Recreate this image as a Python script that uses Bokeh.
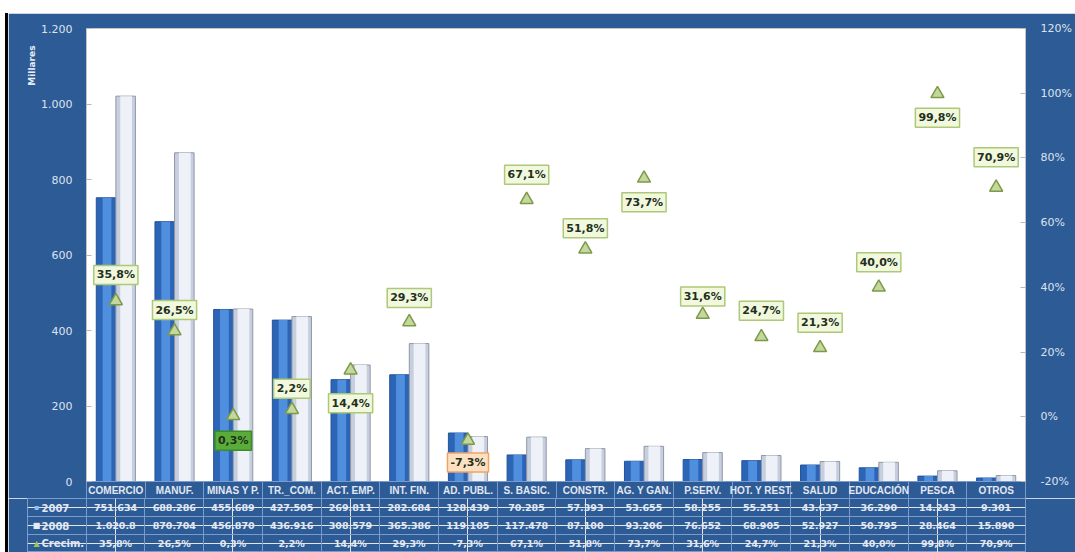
from bokeh.plotting import figure
from bokeh.models import (ColumnDataSource, Range1d, LinearAxis, FixedTicker, Div, Grid, Title)
from bokeh.layouts import column, row
from bokeh.embed import file_html
from bokeh.resources import INLINE
from bokeh.core.properties import value
from bokeh.transform import dodge

# ---------------- data ----------------
categories = ["COMERCIO", "MANUF.", "MINAS Y P.", "TR._COM.", "ACT. EMP.", "INT. FIN.",
              "AD. PUBL.", "S. BASIC.", "CONSTR.", "AG. Y GAN.", "P.SERV.", "HOT. Y REST.",
              "SALUD", "EDUCACIÓN", "PESCA", "OTROS"]
v2007 = [751.634, 688.286, 455.689, 427.505, 269.811, 282.684, 128.439, 70.285,
         57.393, 53.655, 58.255, 55.251, 43.637, 36.290, 14.243, 9.301]
v2008 = [1020.8, 870.704, 456.870, 436.916, 308.579, 365.386, 119.105, 117.478,
         87.100, 93.206, 76.652, 68.905, 52.927, 50.795, 28.464, 15.890]
growth = [35.8, 26.5, 0.3, 2.2, 14.4, 29.3, -7.3, 67.1, 51.8, 73.7, 31.6, 24.7,
          21.3, 40.0, 99.8, 70.9]
left_ticks = [0, 200, 400, 600, 800, 1000, 1200]
left_tick_labels = ["0", "200", "400", "600", "800", "1.000", "1.200"]
right_ticks = [-20, 0, 20, 40, 60, 80, 100, 120]
row_labels = ["2007", "2008", "Crecim."]
title_text = "(Miles de US$ dólares)"
y_title = "Millares"

# ---------------- styling ----------------
BLUE = "#2d5b96"
GRID = "#7a9bcb"
TXT = "#e2e8f2"
# vertical pixel offset of each growth label box from its marker (negative = above)
label_offset = [-26, -21, 25, -21, 33, -24, 22, -25, -21, 24, -18, -26, -25, -25, 24, -30]


def fmt_val(v):
    return f"{v:,.1f}".replace(",", ".") if v >= 1000 else f"{v:.3f}"


def fmt_pct(g):
    return f"{g:.1f}".replace(".", ",") + "%"


idx = list(range(len(categories)))
glabels = [fmt_pct(g) for g in growth]
bg, bd = [], []
for g in growth:
    if g < 0:
        bg.append("#fde0c2"); bd.append("#f0a464")
    elif g < 1:
        bg.append("#5aac3a"); bd.append("#3d8a28")
    else:
        bg.append("#f1f8de"); bd.append("#adc978")

src = ColumnDataSource(dict(x=idx, v2007=v2007, v2008=v2008, growth=growth,
                            glabel=glabels, bg=bg, bd=bd, yoff=label_offset))

# ---------------- title strip (mostly cut off, as in the reference) ----------------
title = Div(
    text=('<div style="position:relative;height:10px;overflow:hidden;background:#fff;">'
          '<div style="position:absolute;left:17px;width:1058px;top:-17px;text-align:center;'
          'font-family:\'Liberation Serif\';font-weight:bold;font-size:32px;line-height:32px;'
          'color:#000;white-space:nowrap;">%s</div></div>'
          '<div style="height:3px;margin-left:5px;background:#000;"></div>') % title_text,
    width=1075, height=13, styles={"overflow": "hidden", "margin": "0", "padding": "0"})

edge = Div(text="", width=8, height=539,
           styles={"background": "linear-gradient(to right, #fff 0px, #fff 5px, #000 5px, #000 8px)",
                   "margin": "0", "padding": "0"})

FW = 1067

# ---------------- chart ----------------
p = figure(width=FW, height=485, x_range=Range1d(-0.5, 15.5), y_range=Range1d(0, 1200),
           output_backend="svg", toolbar_location=None,
           min_border_left=78, min_border_right=50, min_border_top=15, min_border_bottom=17,
           border_fill_color=BLUE, background_fill_color="white",
           outline_line_color="#c4c4c4")
p.xgrid.visible = False
p.ygrid.visible = False

# 2007 bars
p.vbar(x=dodge("x", -0.167), top="v2007", width=0.333, source=src,
       fill_color="#2c64b6", line_color="#23549c")
p.vbar(x=dodge("x", -0.15), top="v2007", width=0.15, source=src,
       fill_color="#4f8fde", line_color=None)
# 2008 bars
p.vbar(x=dodge("x", 0.167), top="v2008", width=0.333, source=src,
       fill_color="#c7cedd", line_color="#8f97a8")
p.vbar(x=dodge("x", 0.175), top="v2008", width=0.2, source=src,
       fill_color="#eef1f8", line_color=None)

# growth axis
p.extra_y_ranges = {"pct": Range1d(-20, 120)}
rax = LinearAxis(y_range_name="pct", ticker=FixedTicker(ticks=right_ticks),
                 major_label_overrides={t: f"{t}%" for t in right_ticks})
p.add_layout(rax, "right")

p.scatter(x="x", y="growth", y_range_name="pct", source=src, marker="triangle",
          size=13, fill_color="#c4d89d", line_color="#7d9a48", line_width=1.5)
p.text(x="x", y="growth", text="glabel", y_range_name="pct", source=src,
       y_offset="yoff", text_align="center", text_baseline="middle",
       text_font=value("DejaVu Sans"), text_font_style="bold", text_font_size="11px",
       text_color="#22301c", background_fill_color="bg", border_line_color="bd",
       border_line_width=1.5, padding=3)

# left axis
ly = p.yaxis[0]
ly.ticker = FixedTicker(ticks=left_ticks)
ly.major_label_overrides = dict(zip(left_ticks, left_tick_labels))
for ax, standoff in ((ly, 14), (rax, 15)):
    ax.axis_line_color = "#c4c4c4"
    ax.major_tick_in = 5
    ax.major_tick_out = 0
    ax.major_tick_line_color = "#b8b8b8"
    ax.minor_tick_line_color = None
    ax.major_label_standoff = standoff
    ax.major_label_text_color = "#dde3ee"
    ax.major_label_text_font = "DejaVu Sans"
    ax.major_label_text_font_size = "11px"

p.add_layout(Title(text=y_title, align="right", offset=17, standoff=4,
                   text_font="DejaVu Sans", text_font_size="9px", text_font_style="bold",
                   text_color="#e8edf5"), "left")

# category axis = first row of the data table
xa = p.xaxis[0]
xa.ticker = FixedTicker(ticks=idx, minor_ticks=[i - 0.5 for i in range(len(idx) + 1)])
xa.major_label_overrides = dict(zip(idx, categories))
xa.major_tick_line_color = None
xa.minor_tick_in = 0
xa.minor_tick_out = 17
xa.minor_tick_line_color = GRID
xa.axis_line_color = GRID
xa.major_label_standoff = -14
xa.major_label_text_color = TXT
xa.major_label_text_font = "Liberation Sans"
xa.major_label_text_font_style = "bold"
xa.major_label_text_font_size = "10px"

# ---------------- data table ----------------
t = figure(width=FW, height=54, x_range=Range1d(-1.5, 15.5), y_range=Range1d(0, 3),
           output_backend="svg", toolbar_location=None,
           min_border_left=19, min_border_right=50, min_border_top=0, min_border_bottom=0,
           border_fill_color=BLUE, background_fill_color=BLUE, outline_line_color=GRID,
           x_axis_location=None, y_axis_location=None)
t.add_layout(Grid(dimension=0, ticker=FixedTicker(ticks=[i - 0.5 for i in range(len(idx))]),
                  grid_line_color=GRID))
t.add_layout(Grid(dimension=1, ticker=FixedTicker(ticks=[1, 2]), grid_line_color=GRID))

row_y = [2.5, 1.5, 0.5]
cells = dict(x=idx * 3,
             y=[row_y[0]] * len(idx) + [row_y[1]] * len(idx) + [row_y[2]] * len(idx),
             text=[fmt_val(v) for v in v2007] + [fmt_val(v) for v in v2008] + glabels)
t.text(x="x", y="y", text="text", source=ColumnDataSource(cells), text_align="center",
       text_baseline="middle", text_font=value("DejaVu Sans"), text_font_style="bold",
       text_font_size="9.5px", text_color=TXT)

hdr = ColumnDataSource(dict(x=[-1.5] * 3, y=row_y, text=row_labels,
                            mk=["\u25aa", "\u25a0", "\u25b2"],
                            mc=["#8fbcf0", "#e6eaf2", "#9cc25a"]))
t.text(x="x", y="y", text="mk", source=hdr, x_offset=9, text_align="center",
       text_baseline="middle", text_font=value("DejaVu Sans"), text_font_size="8px",
       text_color="mc")
t.text(x="x", y="y", text="text", source=hdr, x_offset=14, text_align="left",
       text_baseline="middle", text_font=value("DejaVu Sans"), text_font_style="bold",
       text_font_size="10px", text_color=TXT)

# each figure wrapped in its own row so their frames are not aligned to each other
body = column(row(p, spacing=0), row(t, spacing=0), spacing=0)
layout = column(title, row(edge, body, spacing=0), spacing=0)
open("out.html", "w").write(file_html(layout, INLINE))
